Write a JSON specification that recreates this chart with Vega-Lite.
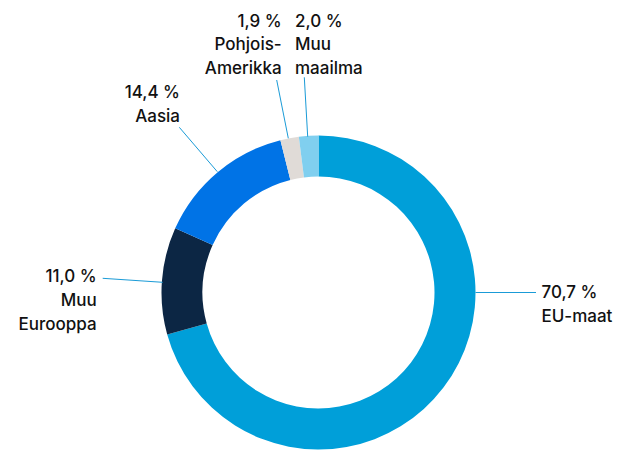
{
  "$schema": "https://vega.github.io/schema/vega-lite/v6.json",
  "width": 622,
  "height": 451,
  "autosize": {"type": "fit", "contains": "padding"},
  "padding": 0,
  "background": "#ffffff",
  "config": {"view": {"stroke": null}},
  "datasets": {
    "shares": [
      {"region": "EU-maat", "share": 70.7, "ord": 1},
      {"region": "Muu Eurooppa", "share": 11.0, "ord": 2},
      {"region": "Aasia", "share": 14.4, "ord": 3},
      {"region": "Pohjois-Amerikka", "share": 1.9, "ord": 4},
      {"region": "Muu maailma", "share": 2.0, "ord": 5}
    ],
    "leaders": [
      {"region": "EU-maat", "x": 157, "y": 0},
      {"region": "EU-maat", "x": 217.5, "y": 0},
      {"region": "Muu Eurooppa", "x": -155.8, "y": 10.2},
      {"region": "Muu Eurooppa", "x": -215.8, "y": 14.2},
      {"region": "Aasia", "x": -101.2, "y": 120.8},
      {"region": "Aasia", "x": -139.2, "y": 165.2},
      {"region": "Pohjois-Amerikka", "x": -30.2, "y": 154.2},
      {"region": "Pohjois-Amerikka", "x": -41.8, "y": 212.5},
      {"region": "Muu maailma", "x": -10.8, "y": 155.8},
      {"region": "Muu maailma", "x": -14.2, "y": 215.2}
    ],
    "labels": [
      {"region": "EU-maat", "label": "70,7 %\nEU-maat", "x": 223, "y": -5.8},
      {"region": "Muu Eurooppa", "label": "11,0 %\nMuu\nEurooppa", "x": -221.8, "y": 10.2},
      {"region": "Aasia", "label": "14,4 %\nAasia", "x": -138.5, "y": 194.2},
      {"region": "Pohjois-Amerikka", "label": "1,9 %\nPohjois-\nAmerikka", "x": -36.8, "y": 265.8},
      {"region": "Muu maailma", "label": "2,0 %\nMuu\nmaailma", "x": -23.5, "y": 265.8}
    ]
  },
  "layer": [
    {
      "data": {"name": "shares"},
      "mark": {"type": "arc", "outerRadius": 157, "innerRadius": 116},
      "encoding": {
        "theta": {"field": "share", "type": "quantitative", "stack": true},
        "order": {"field": "ord", "type": "quantitative"},
        "color": {
          "field": "region",
          "type": "nominal",
          "scale": {
            "domain": ["EU-maat", "Muu Eurooppa", "Aasia", "Pohjois-Amerikka", "Muu maailma"],
            "range": ["#009FD9", "#0C2644", "#0073E6", "#E0DBD7", "#80CFEF"]
          },
          "legend": null
        },
        "x": {"datum": 0, "type": "quantitative", "scale": {"domain": [-318.5, 303.5], "nice": false, "zero": false}, "axis": null},
        "y": {"datum": 0, "type": "quantitative", "scale": {"domain": [-158.5, 292.5], "nice": false, "zero": false}, "axis": null}
      }
    },
    {
      "data": {"name": "leaders"},
      "mark": {"type": "line", "color": "#1A9BD7", "strokeWidth": 1},
      "encoding": {
        "detail": {"field": "region", "type": "nominal"},
        "x": {"field": "x", "type": "quantitative", "axis": null},
        "y": {"field": "y", "type": "quantitative", "axis": null}
      }
    },
    {
      "data": {"name": "labels"},
      "transform": [{"filter": {"field": "region", "oneOf": ["EU-maat", "Muu maailma"]}}],
      "mark": {"type": "text", "align": "left", "baseline": "alphabetic", "lineBreak": "\n", "lineHeight": 23.7, "font": "Inter", "fontSize": 17, "fontWeight": 500, "color": "#111111"},
      "encoding": {
        "text": {"field": "label"},
        "x": {"field": "x", "type": "quantitative", "axis": null},
        "y": {"field": "y", "type": "quantitative", "axis": null}
      }
    },
    {
      "data": {"name": "labels"},
      "transform": [{"filter": {"field": "region", "oneOf": ["Muu Eurooppa", "Aasia", "Pohjois-Amerikka"]}}],
      "mark": {"type": "text", "align": "right", "baseline": "alphabetic", "lineBreak": "\n", "lineHeight": 23.7, "font": "Inter", "fontSize": 17, "fontWeight": 500, "color": "#111111"},
      "encoding": {
        "text": {"field": "label"},
        "x": {"field": "x", "type": "quantitative", "axis": null},
        "y": {"field": "y", "type": "quantitative", "axis": null}
      }
    }
  ]
}
